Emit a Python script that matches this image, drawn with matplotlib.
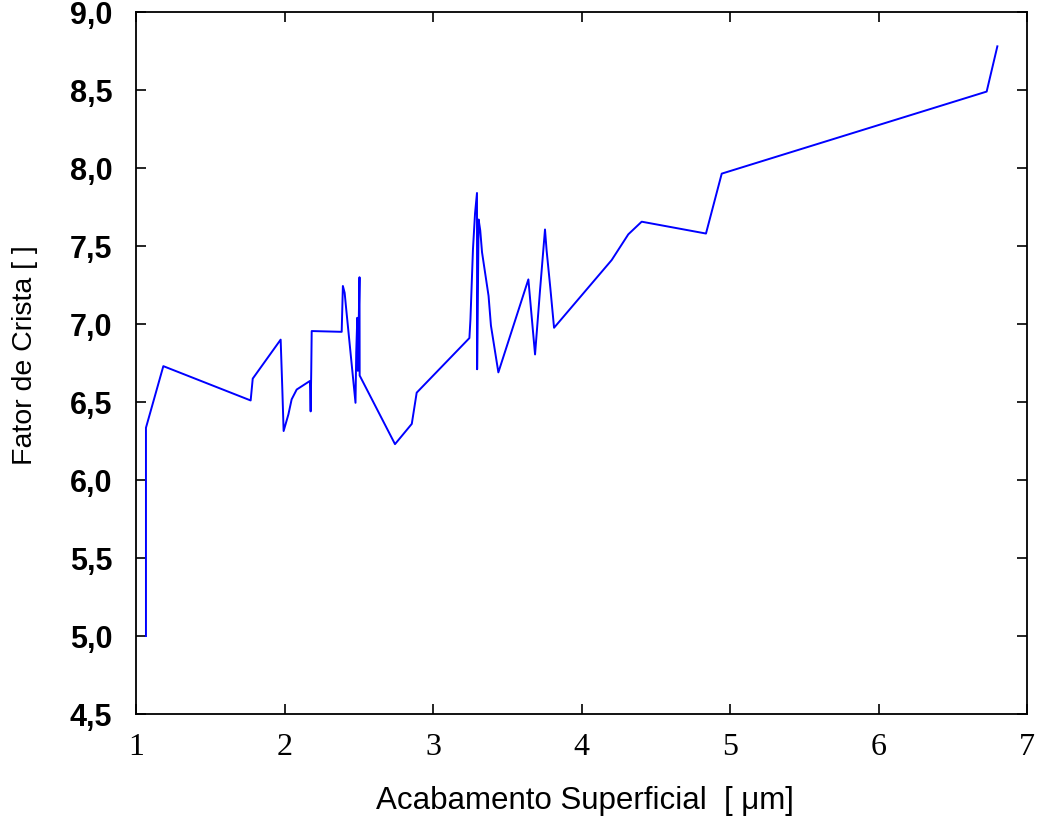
import matplotlib
matplotlib.use("Agg")
import matplotlib.pyplot as plt
from matplotlib.ticker import FixedLocator, FuncFormatter

# Data
acabamento = [1.067, 1.067, 1.184, 1.772, 1.786, 1.974, 1.985, 1.994, 2.026, 2.048,
              2.082, 2.171, 2.176, 2.180, 2.183, 2.385, 2.393, 2.405, 2.415, 2.478,
              2.483, 2.490, 2.494, 2.505, 2.506, 2.744, 2.857, 2.890, 3.245, 3.252,
              3.269, 3.283, 3.296, 3.297, 3.307, 3.318, 3.330, 3.374, 3.390, 3.440,
              3.642, 3.665, 3.687, 3.720, 3.754, 3.765, 3.790, 3.815, 4.203, 4.315,
              4.405, 4.838, 4.944, 6.728, 6.800]
fator_crista = [5.00, 6.335, 6.73, 6.51, 6.65, 6.90, 6.59, 6.314, 6.42, 6.517,
                6.58, 6.635, 6.44, 6.70, 6.955, 6.95, 7.244, 7.20, 7.10, 6.495,
                6.82, 7.04, 6.70, 7.30, 6.67, 6.23, 6.36, 6.56, 6.91, 7.03,
                7.48, 7.71, 7.84, 6.71, 7.67, 7.60, 7.46, 7.18, 6.99, 6.69,
                7.286, 7.04, 6.805, 7.21, 7.606, 7.47, 7.23, 6.976, 7.41, 7.575,
                7.656, 7.58, 7.964, 8.49, 8.78]

x_ticks = [1, 2, 3, 4, 5, 6, 7]
y_ticks = [4.5, 5.0, 5.5, 6.0, 6.5, 7.0, 7.5, 8.0, 8.5, 9.0]

fig = plt.figure(figsize=(10.39, 8.23), dpi=100)
ax = fig.add_axes([0.1309, 0.1324, 0.8576, 0.8530])

ax.plot(acabamento, fator_crista, color="#0000ff", linewidth=1.4)

ax.set_xlim(1, 7)
ax.set_ylim(4.5, 9.0)
ax.xaxis.set_major_locator(FixedLocator(x_ticks))
ax.yaxis.set_major_locator(FixedLocator(y_ticks))
ax.yaxis.set_major_formatter(FuncFormatter(lambda v, p: f"{v:.1f}".replace(".", ",")))
ax.xaxis.set_major_formatter(FuncFormatter(lambda v, p: f"{int(round(v))}"))

ax.tick_params(axis="both", which="major", direction="in", length=7, width=1.2,
               top=True, right=True, color="black")
ax.tick_params(axis="x", pad=14)
ax.tick_params(axis="y", pad=17)
for lab in ax.get_xticklabels():
    lab.set_fontfamily("Liberation Serif")
    lab.set_fontsize(23)
for lab in ax.get_yticklabels():
    lab.set_fontfamily("Liberation Sans")
    lab.set_fontweight("bold")
    lab.set_fontsize(22)

for sp in ax.spines.values():
    sp.set_linewidth(1.3)
    sp.set_color("black")

fig.text(0.563, 0.027, "Acabamento Superficial  [ μm]", ha="center", va="center",
         fontsize=22.5, family="Liberation Sans")
fig.text(0.024, 0.568, "Fator de Crista [ ]", ha="center", va="center",
         rotation=90, fontsize=20.5, family="Liberation Sans")

fig.savefig("out.png", dpi=100)
